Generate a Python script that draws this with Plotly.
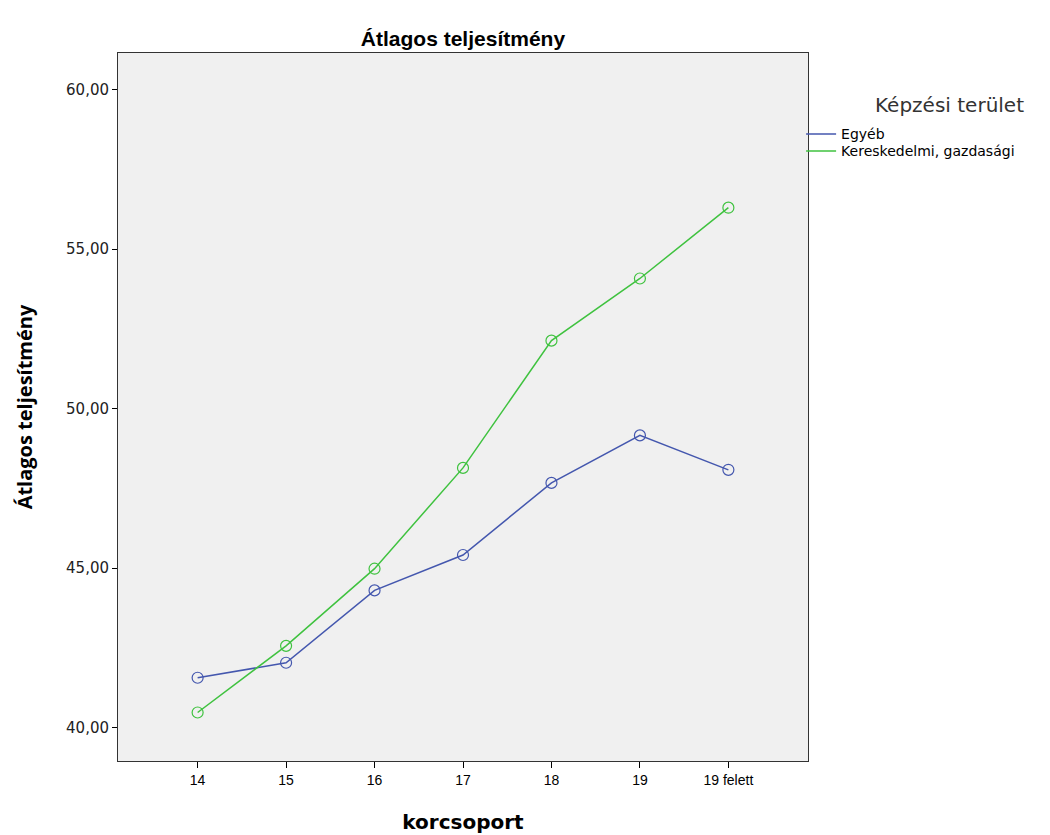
import plotly.graph_objects as go

categories = ["14", "15", "16", "17", "18", "19", "19 felett"]
egyeb = [41.56, 42.03, 44.30, 45.41, 47.67, 49.16, 48.08]
kereskedelmi = [40.47, 42.56, 44.98, 48.14, 52.13, 54.08, 56.30]
y_ticks = [40, 45, 50, 55, 60]

series = [
    ("Egyéb", egyeb, "#4457AE", "legend"),
    ("Kereskedelmi, gazdasági", kereskedelmi, "#3FC23F", "legend2"),
]

fig = go.Figure()
for name, vals, color, lg in series:
    fig.add_trace(go.Scatter(
        x=categories, y=vals, name=name, mode="lines+markers",
        line=dict(color=color, width=1.5), showlegend=False,
        marker=dict(symbol="circle-open", size=11, color=color, line=dict(width=1.2)),
    ))
# legend entries show only the line (as in the original)
for name, vals, color, lg in series:
    fig.add_trace(go.Scatter(
        x=[None], y=[None], name=name, mode="lines", legend=lg,
        line=dict(color=color, width=1.5), showlegend=True,
    ))

legend_font = dict(family="DejaVu Sans", size=14, color="black")
fig.update_layout(
    width=1050, height=835,
    paper_bgcolor="white", plot_bgcolor="#F0F0F0",
    separators=", ",
    margin=dict(l=110, r=250, t=45, b=82),
    title=dict(text="<b>Átlagos teljesítmény</b>", x=0.4333, xanchor="center",
               y=0.963, yanchor="middle",
               font=dict(family="Liberation Sans, Arial", size=21, color="black")),
    showlegend=True,
    legend=dict(
        x=0.99, xanchor="left", y=0.885, yanchor="middle",
        font=legend_font, bgcolor="rgba(0,0,0,0)", itemwidth=30,
    ),
    legend2=dict(
        x=0.99, xanchor="left", y=0.861, yanchor="middle",
        font=legend_font, bgcolor="rgba(0,0,0,0)", itemwidth=30,
    ),
    annotations=[dict(
        text="Képzési terület", xref="paper", yref="paper",
        x=1.205, y=0.927, xanchor="center", yanchor="middle", showarrow=False,
        font=dict(family="DejaVu Sans", size=20, color="#333333"),
    )],
    xaxis=dict(
        type="category", range=[-0.9, 6.9],
        showgrid=False, zeroline=False,
        showline=True, linecolor="#333333", linewidth=1, mirror=True,
        ticks="outside", ticklen=6, tickcolor="black",
        tickfont=dict(family="Liberation Sans, Arial", size=14, color="black"),
        title=dict(text="<b>korcsoport</b>", standoff=28,
                   font=dict(family="DejaVu Sans", size=20, color="black")),
    ),
    yaxis=dict(
        range=[38.95, 61.15], tickvals=y_ticks, tickformat=".2f",
        showgrid=False, zeroline=False,
        showline=True, linecolor="#333333", linewidth=1, mirror=True,
        ticks="outside", ticklen=5, tickcolor="black",
        tickfont=dict(family="DejaVu Sans", size=15, color="#222222"),
        title=dict(text="<b>Átlagos teljesítmény</b>", standoff=28,
                   font=dict(family="Open Sans", size=20, color="black")),
    ),
)

fig.write_html("out.html")
